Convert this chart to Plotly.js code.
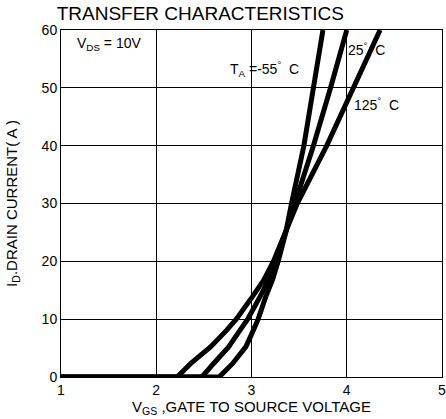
<!DOCTYPE html>
<html>
<head>
<meta charset="utf-8">
<script src="https://cdn.plot.ly/plotly-3.0.1.min.js"></script>
<style>html,body{margin:0;padding:0;background:#fff;}#chart{width:446px;height:419px;}</style>
</head>
<body>
<div id="chart"></div>
<script>
// Gate-source voltage (V) and drain current (A) for each ambient temperature
const vgsM55 = [1, 2.66, 2.80, 2.94, 3.02, 3.07, 3.15, 3.22, 3.28, 3.36, 3.42, 3.55, 3.65, 3.75];
const idM55  = [0, 0,    2.3,  5.2,  8.1,  10,   13.9, 16.8, 20,   25,   30,   40,   50,   60];
const vgs25  = [1, 2.48, 2.60, 2.76, 2.88, 2.96, 3.09, 3.18, 3.26, 3.36, 3.45, 3.65, 3.83, 4.00];
const id25   = [0, 0,    2.3,  5.2,  8.1,  10,   13.9, 16.8, 20,   25,   30,   40,   50,   60];
const vgs125 = [1, 2.22, 2.36, 2.57, 2.74, 2.84, 3.01, 3.13, 3.23, 3.36, 3.48, 3.79, 4.07, 4.35];
const id125  = [0, 0,    2.3,  5.2,  8.1,  10,   13.9, 16.8, 20,   25,   30,   40,   50,   60];

const xTicks = [1, 2, 3, 4, 5];
const yTicks = [0, 10, 20, 30, 40, 50, 60];

const lineStyle = {color: '#000', width: 5, shape: 'linear'};
const traces = [
  {x: vgsM55, y: idM55, mode: 'lines', line: lineStyle, cliponaxis: false},
  {x: vgs25,  y: id25,  mode: 'lines', line: lineStyle, cliponaxis: false},
  {x: vgs125, y: id125, mode: 'lines', line: lineStyle, cliponaxis: false}
];

const fam = 'Liberation Sans, Arial, sans-serif';
const font = {family: fam, color: '#000', size: 14};

const layout = {
  width: 446, height: 419,
  margin: {l: 61, r: 4, t: 30, b: 42},
  paper_bgcolor: '#fff', plot_bgcolor: '#fff',
  showlegend: false,
  font: font,
  title: {text: 'TRANSFER CHARACTERISTICS', font: {family: fam, size: 19, color: '#000'},
          x: 0.449, xanchor: 'center', y: 0.967, yanchor: 'middle'},
  xaxis: {
    range: [1, 5], tickvals: xTicks, ticktext: xTicks.map(String),
    showgrid: true, gridcolor: '#000', gridwidth: 1,
    showline: true, linecolor: '#000', linewidth: 1, mirror: true,
    zeroline: false, ticks: '', ticklen: 0, ticklabeloverflow: 'allow',
    tickfont: {family: fam, size: 14, color: '#000'},
    title: {text: 'V<sub>GS</sub> ,GATE TO SOURCE VOLTAGE', font: {family: fam, size: 15, color: '#000'}, standoff: 4}
  },
  yaxis: {
    range: [0, 60], tickvals: yTicks, ticktext: yTicks.map(String),
    showgrid: true, gridcolor: '#000', gridwidth: 1,
    showline: true, linecolor: '#000', linewidth: 1, mirror: true,
    zeroline: false, ticks: '', ticklen: 0,
    tickfont: {family: fam, size: 14, color: '#000'},
    title: {text: 'I<sub>D</sub>.DRAIN CURRENT( A )', font: {family: fam, size: 15, color: '#000'}, standoff: 20}
  },
  annotations: [
    {x: 1.15, y: 57.5, xref: 'x', yref: 'y', text: 'V<sub>DS</sub> = 10V', showarrow: false, xanchor: 'left', font: font},
    {x: 2.75, y: 53.2, xref: 'x', yref: 'y', text: 'T<sub>A</sub> =-55<sup>°</sup>  C', showarrow: false, xanchor: 'left', font: font},
    {x: 3.99, y: 56.8, xref: 'x', yref: 'y', text: '25<sup>°</sup>  C', showarrow: false, xanchor: 'left', font: font},
    {x: 4.05, y: 47.2, xref: 'x', yref: 'y', text: '125<sup>°</sup>  C', showarrow: false, xanchor: 'left', font: font}
  ]
};

Plotly.newPlot('chart', traces, layout, {displayModeBar: false, staticPlot: true});
</script>
</body>
</html>
